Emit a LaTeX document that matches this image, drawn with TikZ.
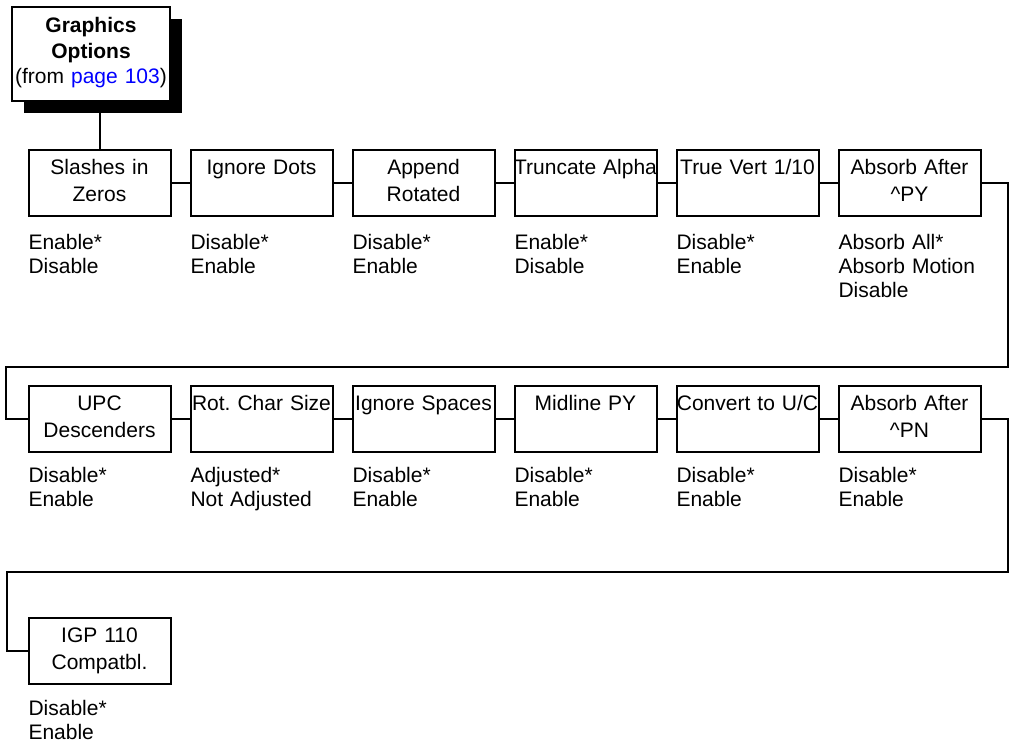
\documentclass[tikz,border=0pt]{standalone}
\usepackage{fontspec}
\setmainfont{Liberation Sans}
\usetikzlibrary{positioning,shadows}
\frenchspacing

\begin{document}
\begin{tikzpicture}[x=0.5pt,y=-0.5pt,line width=1pt,
    menubox/.style={draw, fill=white, anchor=north west, inner ysep=0pt, inner xsep=-0.5pt,
      text width=72pt, align=center, text height=12.3pt, text depth=20.7pt,
      font=\fontsize{10.5}{13.5}\selectfont},
    startbox/.style={menubox, text width=80pt, text height=12.75pt,
      text depth=34.25pt, font=\fontsize{10.5}{12.8}\selectfont,
      drop shadow={shadow xshift=6pt, shadow yshift=-6pt, fill=black, opacity=1}},
    choices/.style={inner sep=0pt, text width=90pt, align=left,
      font=\fontsize{10.5}{12}\selectfont}]
  \useasboundingbox (0,0) rectangle (1011,742);

  % entry point
  \node[startbox] (gfx) at (11,6)
    {\textbf{Graphics}\\\textbf{Options}\\(from \textcolor{blue}{page 103})};

  % first row
  \node[menubox] (s1) at (27.5,149) {Slashes in\\Zeros};
  \node[menubox, right=9pt of s1] (s2) {Ignore Dots};
  \node[menubox, right=9pt of s2] (s3) {Append\\Rotated};
  \node[menubox, right=9pt of s3] (s4) {Truncate Alpha};
  \node[menubox, right=9pt of s4] (s5) {True Vert 1/10};
  \node[menubox, right=9pt of s5] (s6) {Absorb After\\\^{}PY};

  % second row
  \node[menubox] (u1) at (27.5,385) {UPC\\Descenders};
  \node[menubox, right=9pt of u1] (u2) {Rot. Char Size};
  \node[menubox, right=9pt of u2] (u3) {Ignore Spaces};
  \node[menubox, right=9pt of u3] (u4) {Midline PY};
  \node[menubox, right=9pt of u4] (u5) {Convert to U/C};
  \node[menubox, right=9pt of u5] (u6) {Absorb After\\\^{}PN};

  % third row
  \node[menubox] (igp) at (27.5,617) {IGP 110\\Compatbl.};

  % values under each box
  \node[choices, below=16.5pt of s1.south west, anchor=base west] (s1v) {Enable*\\Disable};
  \node[choices, below=16.5pt of s2.south west, anchor=base west] (s2v) {Disable*\\Enable};
  \node[choices, below=16.5pt of s3.south west, anchor=base west] (s3v) {Disable*\\Enable};
  \node[choices, below=16.5pt of s4.south west, anchor=base west] (s4v) {Enable*\\Disable};
  \node[choices, below=16.5pt of s5.south west, anchor=base west] (s5v) {Disable*\\Enable};
  \node[choices, below=16.5pt of s6.south west, anchor=base west] (s6v) {Absorb All*\\Absorb Motion\\Disable};
  \node[choices, below=15pt of u1.south west, anchor=base west] (u1v) {Disable*\\Enable};
  \node[choices, below=15pt of u2.south west, anchor=base west] (u2v) {Adjusted*\\Not Adjusted};
  \node[choices, below=15pt of u3.south west, anchor=base west] (u3v) {Disable*\\Enable};
  \node[choices, below=15pt of u4.south west, anchor=base west] (u4v) {Disable*\\Enable};
  \node[choices, below=15pt of u5.south west, anchor=base west] (u5v) {Disable*\\Enable};
  \node[choices, below=15pt of u6.south west, anchor=base west] (u6v) {Disable*\\Enable};
  \node[choices, below=15pt of igp.south west, anchor=base west] (igpv) {Disable*\\Enable};

  % links
  \draw (s1.north) -- (s1.north |- gfx.south);
  \foreach \a/\b in {s1/s2,s2/s3,s3/s4,s4/s5,s5/s6,u1/u2,u2/u3,u3/u4,u4/u5,u5/u6}
    \draw (\a.east) -- (\b.west);

  \coordinate (eA) at (1008,367);
  \coordinate (wA) at (6,367);
  \draw (s6.east) -| (eA) -- (wA) |- (u1.west);
  \coordinate (eB) at (1008,572);
  \coordinate (wB) at (7,572);
  \draw (u6.east) -| (eB) -- (wB) |- (igp.west);
\end{tikzpicture}
\end{document}
